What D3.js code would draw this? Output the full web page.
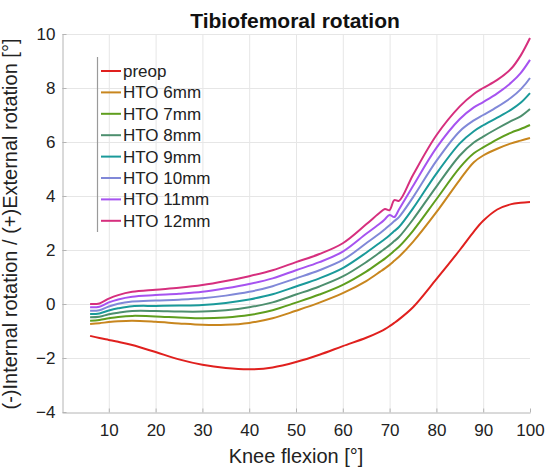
<!DOCTYPE html>
<html>
<head>
<meta charset="utf-8">
<script src="https://cdn.jsdelivr.net/npm/d3@7"></script>
<style>
  body { margin: 0; background: #fff; }
  svg { display: block; font-family: "Liberation Sans", Arial, sans-serif; }
</style>
</head>
<body>
<svg width="548" height="473"></svg>
<script>
// knee flexion angles (deg) at which the curves were read
var flexion = [6, 8, 10, 12, 15, 20, 25, 30, 35, 40, 45, 50, 55, 60, 65, 68, 69, 70, 71, 72, 75, 80, 85, 88, 90, 93, 96, 98, 100];

var preop = [-1.18, -1.26, -1.33, -1.40, -1.52, -1.78, -2.05, -2.25, -2.37, -2.42, -2.35, -2.15, -1.88, -1.56, -1.25, -1.02, -0.93, -0.82, -0.70, -0.57, -0.12, 0.92, 2.00, 2.68, 3.08, 3.50, 3.70, 3.75, 3.78];
var hto6 = [-0.74, -0.71, -0.67, -0.64, -0.62, -0.66, -0.72, -0.77, -0.77, -0.70, -0.53, -0.25, 0.05, 0.40, 0.85, 1.20, 1.32, 1.45, 1.60, 1.75, 2.30, 3.40, 4.60, 5.25, 5.50, 5.75, 5.95, 6.05, 6.15];
var hto7 = [-0.62, -0.59, -0.53, -0.48, -0.44, -0.46, -0.50, -0.53, -0.50, -0.41, -0.23, 0.05, 0.35, 0.71, 1.20, 1.56, 1.68, 1.82, 1.97, 2.12, 2.71, 3.88, 5.05, 5.58, 5.80, 6.10, 6.35, 6.48, 6.63];
var hto8 = [-0.49, -0.47, -0.38, -0.32, -0.26, -0.26, -0.28, -0.28, -0.23, -0.12, 0.06, 0.35, 0.65, 1.02, 1.55, 1.92, 2.05, 2.18, 2.33, 2.48, 3.13, 4.35, 5.50, 5.98, 6.20, 6.50, 6.78, 6.95, 7.22];
var hto9 = [-0.37, -0.35, -0.24, -0.16, -0.08, -0.07, -0.06, -0.04, 0.04, 0.17, 0.36, 0.65, 0.95, 1.33, 1.90, 2.28, 2.41, 2.55, 2.70, 2.85, 3.54, 4.83, 5.95, 6.40, 6.62, 6.90, 7.20, 7.45, 7.81];
var hto10 = [-0.25, -0.23, -0.09, 0.01, 0.09, 0.13, 0.16, 0.21, 0.31, 0.45, 0.66, 0.95, 1.25, 1.63, 2.25, 2.63, 2.77, 2.92, 3.07, 3.22, 3.95, 5.30, 6.40, 6.80, 7.00, 7.30, 7.65, 7.95, 8.37];
var hto11 = [-0.12, -0.10, 0.06, 0.17, 0.27, 0.33, 0.38, 0.45, 0.58, 0.74, 0.95, 1.25, 1.55, 1.94, 2.60, 2.99, 3.14, 3.30, 3.22, 3.50, 4.37, 5.78, 6.85, 7.28, 7.48, 7.80, 8.20, 8.55, 9.04];
var hto12 = [0.00, 0.02, 0.20, 0.33, 0.45, 0.53, 0.60, 0.70, 0.85, 1.03, 1.25, 1.55, 1.85, 2.25, 2.95, 3.40, 3.52, 3.48, 3.85, 3.82, 4.78, 6.25, 7.32, 7.78, 8.00, 8.30, 8.72, 9.20, 9.85];

var seriesNames = ["preop", "HTO 6mm", "HTO 7mm", "HTO 8mm", "HTO 9mm", "HTO 10mm", "HTO 11mm", "HTO 12mm"];
var seriesValues = [preop, hto6, hto7, hto8, hto9, hto10, hto11, hto12];
var seriesColors = ["#e0201e", "#c8861e", "#5f9e1e", "#4d8f6e", "#1a9a9a", "#8088d8", "#a653f0", "#d62f7e"];

var xTicks = [10, 20, 30, 40, 50, 60, 70, 80, 90, 100];
var yTicks = [-4, -2, 0, 2, 4, 6, 8, 10];

var svg = d3.select("svg"),
    width = +svg.attr("width"),
    height = +svg.attr("height");

var x = d3.scaleLinear().domain([0, 100]).range([62, 530]);
var y = d3.scaleLinear().domain([-4, 10]).range([412, 34]);

var axisColor = "#b4b4b4",
    gridColor = "#e6e6e6",
    textColor = "#222222";

// grid
svg.append("g")
    .selectAll("line")
    .data(xTicks.filter(function(d) { return d < 100; }))
    .enter().append("line")
    .attr("x1", function(d) { return x(d) + 0.5; })
    .attr("x2", function(d) { return x(d) + 0.5; })
    .attr("y1", y(-4))
    .attr("y2", y(10))
    .style("stroke", gridColor);

svg.append("g")
    .selectAll("line")
    .data(yTicks.filter(function(d) { return d > -4; }))
    .enter().append("line")
    .attr("x1", x(0))
    .attr("x2", x(100))
    .attr("y1", function(d) { return y(d) + 0.5; })
    .attr("y2", function(d) { return y(d) + 0.5; })
    .style("stroke", gridColor);

// axes
var xAxis = svg.append("g")
    .attr("transform", "translate(0," + (y(-4) + 0.5) + ")")
    .call(d3.axisBottom(x).tickValues(xTicks).tickSize(-4).tickSizeOuter(0).tickPadding(11));

var yAxis = svg.append("g")
    .attr("transform", "translate(" + (x(0) + 0.5) + ",0)")
    .call(d3.axisLeft(y).tickValues(yTicks).tickSize(-4).tickSizeOuter(0).tickPadding(7));

[xAxis, yAxis].forEach(function(a) {
  a.select(".domain").style("stroke", axisColor);
  a.selectAll(".tick line").style("stroke", axisColor);
  a.selectAll(".tick text")
    .style("fill", textColor)
    .style("font-size", "17px")
    .style("font-family", "'Liberation Sans', Arial, sans-serif");
});

// curves
var line = d3.line()
    .x(function(d) { return x(d[0]); })
    .y(function(d) { return y(d[1]); })
    .curve(d3.curveCatmullRom.alpha(0.5));

svg.append("g")
    .selectAll("path")
    .data(seriesValues)
    .enter().append("path")
    .attr("d", function(vals) {
      return line(flexion.map(function(f, i) { return [f, vals[i]]; }));
    })
    .style("fill", "none")
    .style("stroke", function(d, i) { return seriesColors[i]; })
    .style("stroke-width", 2)
    .style("stroke-linejoin", "round");

// legend
var legend = svg.append("g");
var legendTop = 71, legendStep = 21.4;

legend.append("line")
    .attr("x1", 97.5).attr("x2", 97.5)
    .attr("y1", 57).attr("y2", 232)
    .style("stroke", "#9a9a9a")
    .style("stroke-width", 1.2);

var item = legend.selectAll("g.item")
    .data(seriesNames)
    .enter().append("g")
    .attr("class", "item")
    .attr("transform", function(d, i) { return "translate(0," + (legendTop + i * legendStep) + ")"; });

item.append("line")
    .attr("x1", 101).attr("x2", 121)
    .attr("y1", 0).attr("y2", 0)
    .style("stroke", function(d, i) { return seriesColors[i]; })
    .style("stroke-width", 2);

item.append("text")
    .attr("x", 123)
    .attr("dy", "0.35em")
    .style("font-size", "17px")
    .style("fill", textColor)
    .text(function(d) { return d; });

// title and axis labels
svg.append("text")
    .attr("x", 295)
    .attr("y", 28)
    .attr("text-anchor", "middle")
    .style("font-size", "21px")
    .style("font-weight", "bold")
    .style("fill", "#111")
    .text("Tibiofemoral rotation");

svg.append("text")
    .attr("x", 296)
    .attr("y", 463)
    .attr("text-anchor", "middle")
    .style("font-size", "20px")
    .style("fill", textColor)
    .text("Knee flexion [°]");

svg.append("text")
    .attr("transform", "translate(17," + 224 + ") rotate(-90)")
    .attr("text-anchor", "middle")
    .style("font-size", "20px")
    .style("fill", textColor)
    .text("(-)Internal rotation / (+)External rotation [°]");
</script>
</body>
</html>
